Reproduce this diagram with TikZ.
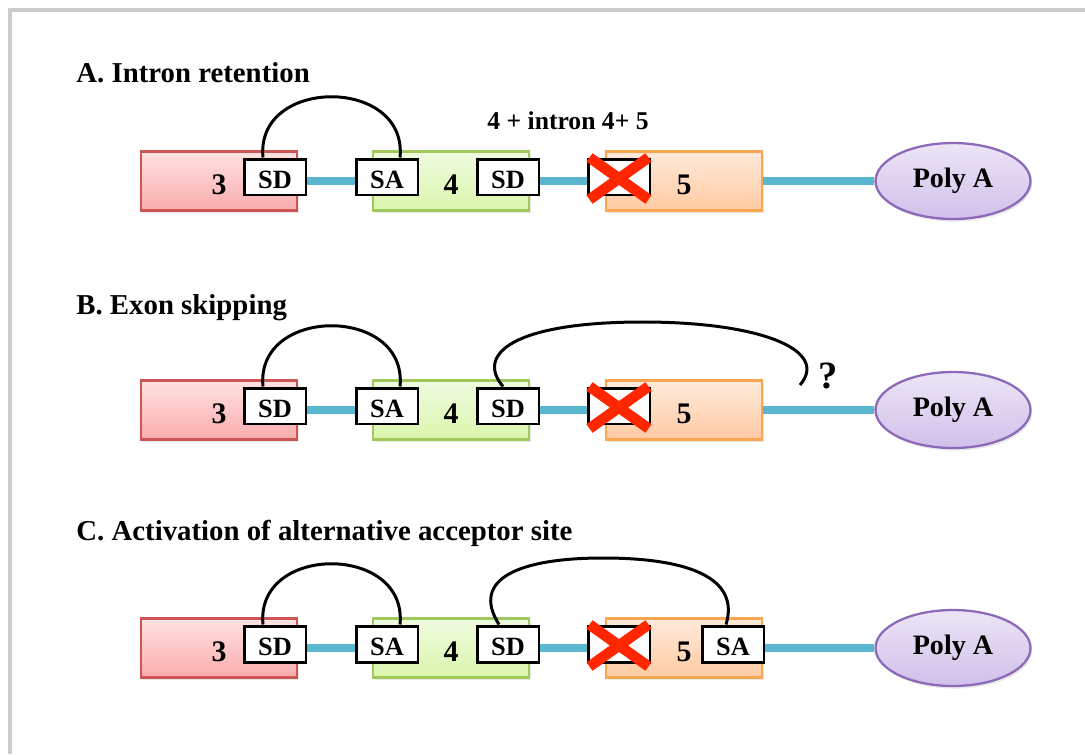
\documentclass[tikz,border=0pt]{standalone}
\usepackage{fontspec}
\setmainfont{Liberation Serif}
\usetikzlibrary{calc,shadows,backgrounds,shapes.geometric}
\definecolor{introncol}{RGB}{90,183,208}
\definecolor{crosscol}{RGB}{255,38,0}
\definecolor{framecol}{RGB}{204,204,204}
\begin{document}
\begin{tikzpicture}[x=0.02cm, y=-0.02cm,
    exon/.style={draw, line width=1.2pt, minimum width=3.12cm, minimum height=1.18cm, inner sep=0pt,
        font=\fontsize{17}{19}\selectfont\bfseries, text height=14.8pt, text depth=0pt,
        drop shadow={opacity=0.18, shadow xshift=1pt, shadow yshift=-1.5pt}},
    exthree/.style={draw={rgb,255:red,205;green,85;blue,85}, top color={rgb,255:red,255;green,226;blue,226}, bottom color={rgb,255:red,250;green,172;blue,172}},
    exfour/.style={draw={rgb,255:red,160;green,200;blue,90}, top color={rgb,255:red,240;green,251;blue,224}, bottom color={rgb,255:red,218;green,245;blue,172}},
    exfive/.style={draw={rgb,255:red,250;green,165;blue,80}, top color={rgb,255:red,255;green,234;blue,218}, bottom color={rgb,255:red,255;green,202;blue,162}},
    site/.style={draw=black, fill=white, line width=1.7pt, minimum width=1.24cm, minimum height=0.72cm, inner sep=0pt,
        font=\fontsize{15}{17}\selectfont\bfseries, text height=12.6pt, text depth=0pt},
    polya/.style={ellipse, draw={rgb,255:red,140;green,105;blue,185}, line width=1.3pt, minimum width=3.1cm, minimum height=1.52cm,
        top color={rgb,255:red,236;green,229;blue,246}, bottom color={rgb,255:red,208;green,192;blue,234}, inner sep=0pt,
        font=\fontsize{16}{18}\selectfont\bfseries,
        drop shadow={opacity=0.18, shadow xshift=1pt, shadow yshift=-1.5pt}},
    intron/.style={introncol, line width=4pt},
    cross/.style={crosscol, line width=6pt},
    splice/.style={black, line width=1.7pt},
    title/.style={anchor=west, inner sep=0pt, font=\fontsize{16.4}{18}\selectfont\bfseries}]
    \path[use as bounding box] (0,0) rectangle (1085,754);
    \draw[framecol, line width=1.8pt] (10,754) -- (10,10) -- (1085,10);
    %% titles
    \node[title] (tA) at (76,73) {A. Intron retention};
    \node[title] (tB) at (76,308) {B. Exon skipping};
    \node[title] (tC) at (76,533) {C. Activation of alternative acceptor site};
    \node[inner sep=0pt, font=\fontsize{14.6}{16}\selectfont\bfseries] (retlbl) at (568,121) {4 + intron 4+ 5};
    %% the three gene rows
    \foreach \r/\yc in {A/181,B/410,C/648}{
        \node[exon, exthree] (e3\r) at (219,\yc) {3};
        \node[exon, exfour] (e4\r) at (451,\yc) {4};
        \node[exon, exfive] (e5\r) at (684,\yc) {5};
        \node[site] (sd3\r) at (275,\yc-4) {SD};
        \node[site] (sa4\r) at (387,\yc-4) {SA};
        \node[site] (sd4\r) at (508,\yc-4) {SD};
        \node[site] (xs\r) at (619,\yc-4) {};
        \draw[cross] ($(xs\r.north west)+(3,0)$) -- ($(xs\r.south east)+(-3,3)$)
                     ($(xs\r.south west)+(3,3)$) -- ($(xs\r.north east)+(-3,0)$);
        \node[polya] (pa\r) at (953,\yc) {Poly A};
        \begin{scope}[on background layer]
            \draw[intron] (e3\r.east) -- (pa\r.west);
        \end{scope}
        \draw[splice] ($(sd3\r.north)+(-12,0)$) .. controls +(-8,-81) and +(8,-81) .. ($(sa4\r.north)+(13,0)$);
    }
    %% exon skipping, open end
    \coordinate (qend) at (800,385);
    \node[inner sep=0pt, font=\fontsize{22}{24}\selectfont\bfseries] (qmark) at (828,376) {?};
    \draw[splice] ($(sd4B.north)+(-5,0)$) .. controls +(-28,-33) and +(-128,0) .. (643,322)
        .. controls +(117,0) and +(30,-35) .. (qend);
    %% alternative acceptor in exon 5
    \node[site] (sa5C) at (733,644) {SA};
    \draw[splice] ($(sd4C.north)+(-9,0)$) .. controls +(-29,-46) and +(-83,0) .. (603,558)
        .. controls +(87,0) and +(14,-46) .. ($(sa5C.north)+(-7,0)$);
\end{tikzpicture}
\end{document}
